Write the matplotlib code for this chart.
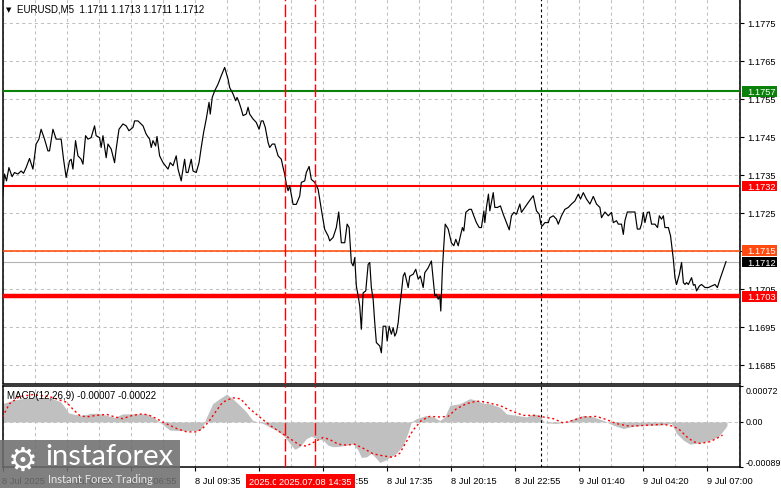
import matplotlib
matplotlib.use('Agg')
import matplotlib.pyplot as plt
from matplotlib.patches import Rectangle
from matplotlib.ticker import FixedLocator
from matplotlib.transforms import blended_transform_factory

W, H = 781, 489
plt.rcParams['font.family'] = ['Liberation Sans', 'DejaVu Sans']

# ---------------- data ----------------
price_bars = [0, 1, 2, 3.2, 4.8, 6, 7.7, 9.3, 10.5, 11.8,
              13.5, 15.2, 16.8, 18.2, 19.3, 21, 22.7, 23.5, 25.2, 26.8,
              29.3, 30.5, 31.8, 33.5, 34.3, 35.2, 36.5, 37.7, 39.3, 40.2,
              41.5, 42.7, 44.3, 46, 46.8, 48.5, 49.3, 50.2, 51.8, 52.7,
              54.3, 56, 56.8, 58.2, 60.2, 61.8, 63.2, 65.2, 66, 67.7,
              70.2, 71.8, 73.5, 74.3, 75.2, 76.5, 77.2, 78.5, 80.2, 82.7,
              83.8, 85.2, 86.8, 87.7, 89.3, 89.8, 91, 91.8, 92.7, 94.3,
              95.2, 96.8, 98.2, 99.3, 100.5, 101.8, 103.2, 103.8, 104.8, 106,
              107.7, 109.3, 111, 112.7, 113.5, 115.2, 116.5, 117.2, 118.2, 119.3,
              120.2, 121.8, 122.7, 123.5, 125.2, 126.8, 128.2, 129.3, 130.2, 131.3,
              132.7, 133.5, 134.8, 136, 137.7, 139.3, 140.2, 141, 141.8, 142.7,
              143.5, 145.2, 146.8, 148.5, 149.3, 151, 151.8, 153.2, 154.3, 156,
              157.7, 159.3, 161, 162.7,
              163.5, 165.2, 166.8, 168, 169.3, 171, 172.2, 173.2, 174.3, 175.2,
              176, 176.8, 177.7, 178.5, 179.3, 180.2, 181.5, 182.7, 183.5, 184.3,
              185.2, 186, 186.8, 188.5, 189.3, 190.2, 191.5, 192.2, 193.2, 194.3,
              195.2, 196, 196.8, 197.7, 198.5, 199.3, 200.2, 201, 202.7, 203.5,
              205.2, 206.5, 207.7, 208.8, 210.2, 211, 212.7, 214.3, 215.2, 216,
              216.8, 217.7, 218.5, 219, 219.8, 220.5, 221.2, 222.7, 224.3, 225.5,
              226.5, 227.7, 228.8, 229.8, 230.5, 231.5, 233.2, 234.3, 235.2, 236.8,
              238.2, 239.3, 240.5, 241, 241.8, 242.8, 243.5, 244.3, 245.2, 246,
              247.3, 248.8, 250.2, 251.8, 253.2, 254.3, 255.5, 256.8, 258.5, 259.3,
              261, 262.7, 265.2, 266.8, 268.2, 269, 269.7, 271, 272.7, 273.5,
              275.2, 276.8, 277.7, 279.3, 281, 282.7, 284.3, 286, 287.7, 288.8,
              290.2, 291.8, 293.5, 295.2, 296.8, 298.5, 299.3, 301, 302.7, 304.3,
              305.2, 306.8, 307.7, 309.3, 310.2, 311, 312.2, 314.3, 316, 317.2,
              318.5, 319.3, 320.2, 321, 322.2, 323.2, 324.3, 326, 327.3, 328.2,
              329.3, 330.2, 331, 332.7, 333.8, 335.2, 336, 336.8, 338.2, 339.3,
              340.2, 341, 341.8, 342.7, 344.3, 345.2, 346, 346.8, 348.2, 349.3,
              351, 352.7, 354.3, 356, 357.2, 358.5, 360.2, 361.5]
price_close = [1.17294, 1.17352, 1.17334, 1.17369, 1.17345, 1.17356, 1.17352, 1.17360, 1.17354, 1.17369,
               1.17393, 1.17365, 1.17431, 1.17444, 1.17470, 1.17444, 1.17413, 1.17413, 1.17470, 1.17444,
               1.17444, 1.17391, 1.17343, 1.17387, 1.17391, 1.17365, 1.17440, 1.17400, 1.17391, 1.17378,
               1.17453, 1.17444, 1.17448, 1.17479, 1.17453, 1.17448, 1.17422, 1.17453, 1.17395, 1.17431,
               1.17418, 1.17382, 1.17418, 1.17470, 1.17484, 1.17479, 1.17466, 1.17475, 1.17492, 1.17492,
               1.17479, 1.17457, 1.17444, 1.17422, 1.17440, 1.17426, 1.17451, 1.17400, 1.17382, 1.17365,
               1.17382, 1.17374, 1.17400, 1.17365, 1.17334, 1.17352, 1.17391, 1.17356, 1.17356, 1.17391,
               1.17360, 1.17356, 1.17382, 1.17422, 1.17462, 1.17497, 1.17541, 1.17510, 1.17554, 1.17571,
               1.17589, 1.17611, 1.17633, 1.17602, 1.17580, 1.17563, 1.17545, 1.17554, 1.17541, 1.17523,
               1.17506, 1.17510, 1.17528, 1.17510, 1.17497, 1.17488, 1.17470, 1.17492, 1.17492, 1.17475,
               1.17435, 1.17422, 1.17431, 1.17431, 1.17400, 1.17391, 1.17369, 1.17352, 1.17325, 1.17308,
               1.17321, 1.17272, 1.17272, 1.17294, 1.17330, 1.17334, 1.17356, 1.17372, 1.17338, 1.17330,
               1.17312, 1.17259, 1.17206, 1.17189,
               1.17176, 1.17185, 1.17211, 1.17252, 1.17171, 1.17171, 1.17220, 1.17211, 1.17119, 1.17110,
               1.17132, 1.17057, 1.17031, 1.17004, 1.16943, 1.17039, 1.17044, 1.17114, 1.17119, 1.17053,
               1.17022, 1.16960, 1.16908, 1.16899, 1.16881, 1.16951, 1.16951, 1.16912, 1.16951, 1.16930,
               1.16947, 1.16925, 1.16934, 1.16960, 1.17004, 1.17039, 1.17083, 1.17092, 1.17053, 1.17083,
               1.17088, 1.17101, 1.17075, 1.17083, 1.17053, 1.17092, 1.17105, 1.17123, 1.17075, 1.17031,
               1.17035, 1.17022, 1.17031, 1.16991, 1.17101, 1.17163, 1.17220, 1.17207, 1.17171, 1.17163,
               1.17180, 1.17163, 1.17189, 1.17211, 1.17202, 1.17251, 1.17259, 1.17259, 1.17246, 1.17224,
               1.17211, 1.17211, 1.17255, 1.17224, 1.17264, 1.17299, 1.17255, 1.17277, 1.17303, 1.17264,
               1.17264, 1.17268, 1.17246, 1.17224, 1.17205, 1.17242, 1.17251, 1.17246, 1.17273, 1.17251,
               1.17264, 1.17277, 1.17295, 1.17255, 1.17246, 1.17220, 1.17215, 1.17224, 1.17224, 1.17237,
               1.17242, 1.17233, 1.17220, 1.17242, 1.17259, 1.17264, 1.17273, 1.17281, 1.17299, 1.17286,
               1.17303, 1.17286, 1.17273, 1.17293, 1.17273, 1.17264, 1.17237, 1.17252, 1.17242, 1.17251,
               1.17224, 1.17229, 1.17220, 1.17220, 1.17193, 1.17229, 1.17252, 1.17252, 1.17252, 1.17207,
               1.17207, 1.17220, 1.17251, 1.17224, 1.17251, 1.17252, 1.17220, 1.17220, 1.17211, 1.17242,
               1.17233, 1.17242, 1.17211, 1.17211, 1.17189, 1.17127, 1.17079, 1.17061, 1.17088, 1.17119,
               1.17066, 1.17061, 1.17066, 1.17061, 1.17079, 1.17059, 1.17061, 1.17044, 1.17057, 1.17061,
               1.17053, 1.17053, 1.17057, 1.17061, 1.17053, 1.17075, 1.17101, 1.17121]

macd_bars = [0, 5, 10, 15, 20, 25, 29, 31, 33, 36,
             40, 44, 48, 52, 56, 60, 65, 72, 75, 78.5,
             83.5, 88.5, 93.5, 98.5, 100, 102, 105, 108.5, 112, 115,
             118.5, 121.8, 125, 127.7, 130.2, 133.5, 136.8, 140.2, 143.5, 146,
             148.5, 151.8, 154.3, 156.8, 160.2, 162.7, 165.2, 168.5, 171.8, 175.2,
             177.7, 179.3, 181.8, 184.3, 186.8, 188.5, 191, 193.5, 196.8, 200.2,
             202.7, 204.3, 206.8, 211.8, 215.2, 218.5, 221, 223.5, 228.5, 233.5,
             236.8, 240, 243.5, 248.5, 251.8, 256.8, 261.8, 265.2, 268.5, 270.2,
             271.8, 276.8, 281.8, 285.2, 290.2, 295.2, 300.2, 305.2, 310.2, 315.2,
             321.8, 328.5, 334.3, 336.8, 340.2, 343.5, 348.5, 353.5, 357.7, 361,
             362]
macd_hist = [36, 43, 46, 48, 48, 46, 40, 30, 18, 15,
             13, 17, 17, 13, 9, 16, 16, 16, 10, 0,
             -16, -17, -17, -17, -10, 10, 36, 46, 55, 46,
             33, 20, 3, 0, -3, -10, -16, -26, -42, -54,
             -49, -33, -28, -33, -36, -46, -49, -48, -46, -43,
             -56, -70, -69, -62, -72, -80, -76, -70, -62, -46,
             -20, 0, 6.5, 13, 10, 3, 10, 33, 36, 46,
             43, 37, 36, 29, 16, 13, 10, 16, 13, 2,
             -2, -3, 0, 6.5, 13, 10, 3, -6.5, -13, -8.5,
             -6.5, -6.5, -3, -23, -36, -44, -41, -36, -29, -13,
             -7]  # x 1e-5

signal_bars = [0, 3.5, 8.5, 15, 23.5, 32, 35, 38.5, 42, 47,
               52, 56, 60, 65, 70, 73.5, 77, 80, 83.5, 87,
               92, 97, 100, 103.5, 107, 110, 115, 119, 123.5, 128.5,
               133.5, 138.5, 143.5, 148.5, 151.8, 156, 160.2, 163.5, 167.7, 171.8,
               176, 180.2, 185.2, 190.2, 195.2, 198.5, 201.8, 205.2, 209.3, 213.5,
               218.5, 222.7, 226.8, 231.8, 236.8, 240.5, 243.5, 248.5, 253.5, 260.2,
               265.2, 270.2, 275.2, 280.2, 285.2, 290.2, 296.8, 301.8, 306.8, 313.5,
               321.8, 330.2, 335.2, 338.5, 341.8, 345.2, 348.5, 353.5, 356.8, 359.8]
signal_vals = [10, 36, 50, 54, 50, 39, 26, 13, 10, 13,
               15, 10, 6.5, 13, 16, 13, 6.5, 0, -6.5, -13,
               -19.6, -19.6, -13, 3, 23, 39, 47.7, 45.7, 26, 9.8,
               -6.5, -19.6, -32.6, -45.7, -47.7, -39, -30.7, -34.6, -44, -45.7,
               -44, -52, -63, -67, -70, -62, -39, -16, 3, 11,
               9.8, 11, 26, 36, 41, 40, 37, 32.6, 23, 13,
               13, 9.8, 6.5, -2, 3.3, 9.8, 11, 4.6, -3.3, -8.5,
               -6.5, -4.6, -8.5, -16, -29, -39, -42.5, -39, -32.6, -26]  # x 1e-5

level_prices = [1.1757, 1.1732, 1.1715, 1.1703]
level_names = ['1.1757', '1.1732', '1.1715', '1.1703']
bid_price = 1.1712
bid_name = '1.1712'

price_ticks = [1.1685, 1.1695, 1.1705, 1.1715, 1.1725, 1.1735, 1.1745, 1.1755, 1.1765, 1.1775]
time_tick_bars = [0, 32, 64, 96, 128, 160, 192, 224, 256, 288, 320, 352]
time_tick_labels = ['8 Jul 2025', '8 Jul 04:15', '8 Jul 06:55', '8 Jul 09:35', '8 Jul 12:15',
                    '8 Jul 14:55', '8 Jul 17:35', '8 Jul 20:15', '8 Jul 22:55', '9 Jul 01:40',
                    '9 Jul 04:20', '9 Jul 07:00']
event_bars = [141.3, 156.2]
event_labels = ['2025.07.08 13:20', '2025.07.08 14:35']
day_sep_bar = 269.3

macd_ticks = [0.00072, 0.0, -0.00089]
macd_tick_labels = ['0.00072', '0.00', '-0.00089']
title_text = 'EURUSD,M5  1.1711 1.1713 1.1711 1.1712'
macd_text = 'MACD(12,26,9) -0.00007 -0.00022'

# ---------------- styling ----------------
GRID = '#c0c0c0'
FS = 6.7
level_colors = ['#0a820a', '#ff0000', '#ff4500', '#ff0000']
level_lw = [1.5, 1.5, 1.1, 3.2]
label_bg = ['#0a820a', '#ff0000', '#ff4a10', '#ff0000']

fig = plt.figure(figsize=(W / 100, H / 100), dpi=100)
fig.patch.set_facecolor('white')


def px_axes(x0, y0, x1, y1):
    return fig.add_axes([x0 / W, 1 - y1 / H, (x1 - x0) / W, (y1 - y0) / H])


AX_X0, AX_X1 = 2.5, 740
ax = px_axes(AX_X0, 0, AX_X1, 384.5)
axm = px_axes(AX_X0, 386.5, AX_X1, 468)

XMAX = 368.5
for a in (ax, axm):
    a.set_xlim(0, XMAX)
    a.set_facecolor('white')
    a.xaxis.set_major_locator(FixedLocator(time_tick_bars))
    a.xaxis.set_minor_locator(FixedLocator([b + 16 for b in time_tick_bars]))
    a.grid(True, which='both', axis='x', color=GRID, lw=0.75, ls=(0, (3, 3)))
    for s in a.spines.values():
        s.set_color('black')
        s.set_linewidth(1.1)
    a.yaxis.tick_right()

# ---- main price panel ----
YLO, YHI = 1.168001, 1.178132
ax.set_ylim(YLO, YHI)
ax.spines['top'].set_visible(False)
ax.yaxis.set_major_locator(FixedLocator(price_ticks))
ax.set_yticklabels([f'{p:.4f}' for p in price_ticks], fontsize=FS)
ax.tick_params(axis='y', which='both', direction='out', length=3, width=0.8, pad=2, colors='black')
ax.tick_params(axis='x', which='both', length=0, labelbottom=False)
ax.grid(True, axis='y', color=GRID, lw=0.75, ls=(0, (3, 3)))

for lp, c, lw in zip(level_prices, level_colors, level_lw):
    ax.axhline(lp, color=c, lw=lw, zorder=3)
ax.axhline(bid_price, color='#b4b4b4', lw=0.8, zorder=2)

ax.plot(price_bars, price_close, color='black', lw=0.85, zorder=4)

# right-side price labels in coloured boxes (box 742..777 px wide, ~10.5 px tall)
axw = AX_X1 - AX_X0
px_per_price = 384.5 / (YHI - YLO)
half_h = 5.3 / px_per_price
btrans = blended_transform_factory(ax.transAxes, ax.transData)
for lp, name, bg in zip(level_prices + [bid_price], level_names + [bid_name], label_bg + ['black']):
    ax.add_patch(Rectangle(((742 - AX_X0) / axw, lp - half_h), 35 / axw, 2 * half_h,
                           transform=btrans, fc=bg, ec='none', clip_on=False, zorder=6))
    ax.annotate(name, xy=(1, lp), xycoords=('axes fraction', 'data'), xytext=(5.0, 0),
                textcoords='offset points', ha='left', va='center', fontsize=FS, color='white',
                annotation_clip=False, zorder=7)

# ---- MACD panel ----
axm.set_ylim(-0.00089, 0.00072)
axm.yaxis.set_major_locator(FixedLocator(macd_ticks))
axm.set_yticklabels(macd_tick_labels, fontsize=FS - 0.3)
for lbl, va in zip(axm.get_yticklabels(), ['top', 'center', 'bottom']):
    lbl.set_va(va)
axm.tick_params(axis='y', direction='out', length=2.5, width=0.8, pad=1.2, colors='black')
axm.axhline(0, color=GRID, lw=0.75, ls=(0, (3, 3)), zorder=1)
axm.fill_between(macd_bars, 0, [v * 1e-5 for v in macd_hist], color='#c0c0c0', lw=0, zorder=2)
axm.plot(signal_bars, [v * 1e-5 for v in signal_vals], color='#ff0000', lw=1.0,
         ls=(0, (1.5, 2)), zorder=3)

axm.set_xticklabels(time_tick_labels, fontsize=FS)
axm.tick_params(axis='x', which='major', direction='out', length=3, width=0.8, pad=3.5, colors='black')
axm.tick_params(axis='x', which='minor', length=0)
for lbl in axm.get_xticklabels():
    lbl.set_ha('left')

# vertical marker lines through both panels
for a in (ax, axm):
    for b in event_bars:
        a.axvline(b, color='#ff0000', lw=1.0, ls=(0, (9, 2.5)), zorder=5)
    a.axvline(day_sep_bar, color='black', lw=0.8, ls=(0, (2.5, 2.5)), zorder=5)

for b, t in zip(event_bars, event_labels):
    axm.annotate(t, xy=(b, 0), xycoords=('data', 'axes fraction'), xytext=(0, -10.5),
                 textcoords='offset points', ha='center', va='center', fontsize=FS,
                 color='white', annotation_clip=False, zorder=7,
                 bbox=dict(boxstyle='square,pad=0.35', fc='#ff0000', ec='none'))

# header texts
fig.text(6 / W, 1 - 10 / H, '\u25bc', fontsize=5, color='black', va='center', ha='left',
         family=['DejaVu Sans'])
fig.text(17 / W, 1 - 10 / H, title_text, fontsize=FS + 0.3, color='black', va='center', ha='left')
fig.text(7 / W, 1 - 396 / H, macd_text, fontsize=FS + 0.3, color='black', va='center', ha='left')

# watermark logo
fig.add_artist(Rectangle((0, 0), 180 / W, 48 / H, transform=fig.transFigure,
                         fc='#6e6e6e', ec='none', alpha=0.88, zorder=20))
fig.text(23 / W, 1 - 461 / H, '\u2699', fontsize=24, color='white', ha='center', va='center',
         family=['DejaVu Sans'], zorder=21)
fig.text(45 / W, 1 - 457 / H, 'instaforex', fontsize=21, color='white', ha='left', va='center',
         family=['Lato', 'DejaVu Sans'], zorder=21)
fig.text(48 / W, 1 - 480 / H, 'Instant Forex Trading', fontsize=8, color='#e8e8e8', ha='left',
         va='center', family=['Lato', 'DejaVu Sans'], zorder=21)

fig.savefig('out.png', dpi=100, facecolor='white')
